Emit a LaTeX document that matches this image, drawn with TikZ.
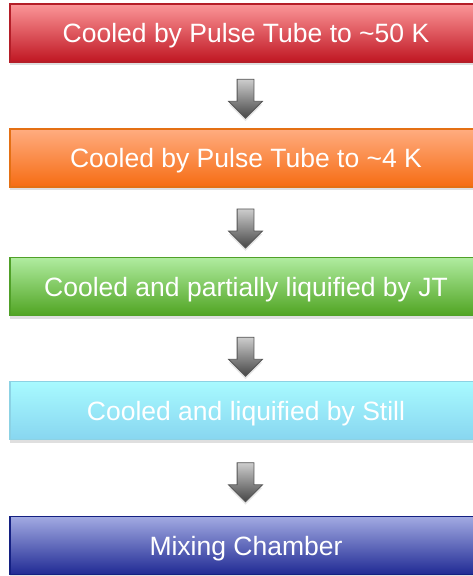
\documentclass[tikz,border=0pt]{standalone}
\usepackage{fontspec}
\setmainfont{Liberation Sans}
\usetikzlibrary{shapes.arrows,shadows,calc}

\definecolor{redtop}{RGB}{251,150,152}
\definecolor{redbot}{RGB}{192,22,34}
\definecolor{redline}{RGB}{180,30,40}
\definecolor{orgtop}{RGB}{255,172,128}
\definecolor{orgbot}{RGB}{246,108,18}
\definecolor{orgline}{RGB}{228,112,20}
\definecolor{grntop}{RGB}{176,236,160}
\definecolor{grnbot}{RGB}{80,164,34}
\definecolor{grnline}{RGB}{80,160,40}
\definecolor{cyntop}{RGB}{168,250,255}
\definecolor{cynbot}{RGB}{136,214,240}
\definecolor{cynline}{RGB}{140,210,228}
\definecolor{blutop}{RGB}{162,170,226}
\definecolor{blubot}{RGB}{32,42,148}
\definecolor{bluline}{RGB}{20,32,130}
\definecolor{arrtop}{RGB}{205,205,205}
\definecolor{arrbot}{RGB}{70,70,70}
\definecolor{arrline}{RGB}{85,85,85}

\tikzset{
	stage/.style={shape=rectangle, line width=1.2pt, minimum width=472pt, minimum height=58pt,
		text=white, font=\fontsize{26.5pt}{30pt}\selectfont, text depth=0pt,
		drop shadow={shadow xshift=0pt, shadow yshift=-3pt, opacity=0.25}},
	downarrow/.style={single arrow, shape border rotate=270, inner sep=8pt,
		minimum height=39pt, minimum width=33pt,
		single arrow head extend=8.5pt, single arrow head indent=0pt,
		draw=arrline, line width=0.8pt, top color=arrtop, bottom color=arrbot,
		drop shadow={shadow xshift=0pt, shadow yshift=-3pt, opacity=0.2}}
}

\begin{document}
\begin{tikzpicture}[x=1pt, y=-1pt]
	\useasboundingbox (0, 0) rectangle (473, 576);
	% Stages:
	\node[stage, draw=redline, top color=redtop, bottom color=redbot] (pt50) at (246, 33) {Cooled by Pulse Tube to \textasciitilde50 K};
	\node[stage, draw=orgline, top color=orgtop, bottom color=orgbot] (pt4) at (246, 158) {Cooled by Pulse Tube to \textasciitilde4 K};
	\node[stage, draw=grnline, top color=grntop, bottom color=grnbot] (jt) at (246, 286.5) {Cooled and partially liquified by JT};
	\node[stage, draw=cynline, top color=cyntop, bottom color=cynbot] (still) at (246, 410.5) {Cooled and liquified by Still};
	\node[stage, draw=bluline, top color=blutop, bottom color=blubot] (mix) at (246, 545.5) {Mixing Chamber};
	% Arrows between stages:
	\node[downarrow] (a1) at ($(pt50.south)!0.5!(pt4.north) + (-0.5, -1)$) {};
	\node[downarrow] (a2) at ($(pt4.south)!0.5!(jt.north) + (-0.5, 2)$) {};
	\node[downarrow] (a3) at ($(jt.south)!0.5!(still.north) + (-0.5, 4)$) {};
	\node[downarrow] (a4) at ($(still.south)!0.5!(mix.north) + (-0.5, 0)$) {};
\end{tikzpicture}
\end{document}
